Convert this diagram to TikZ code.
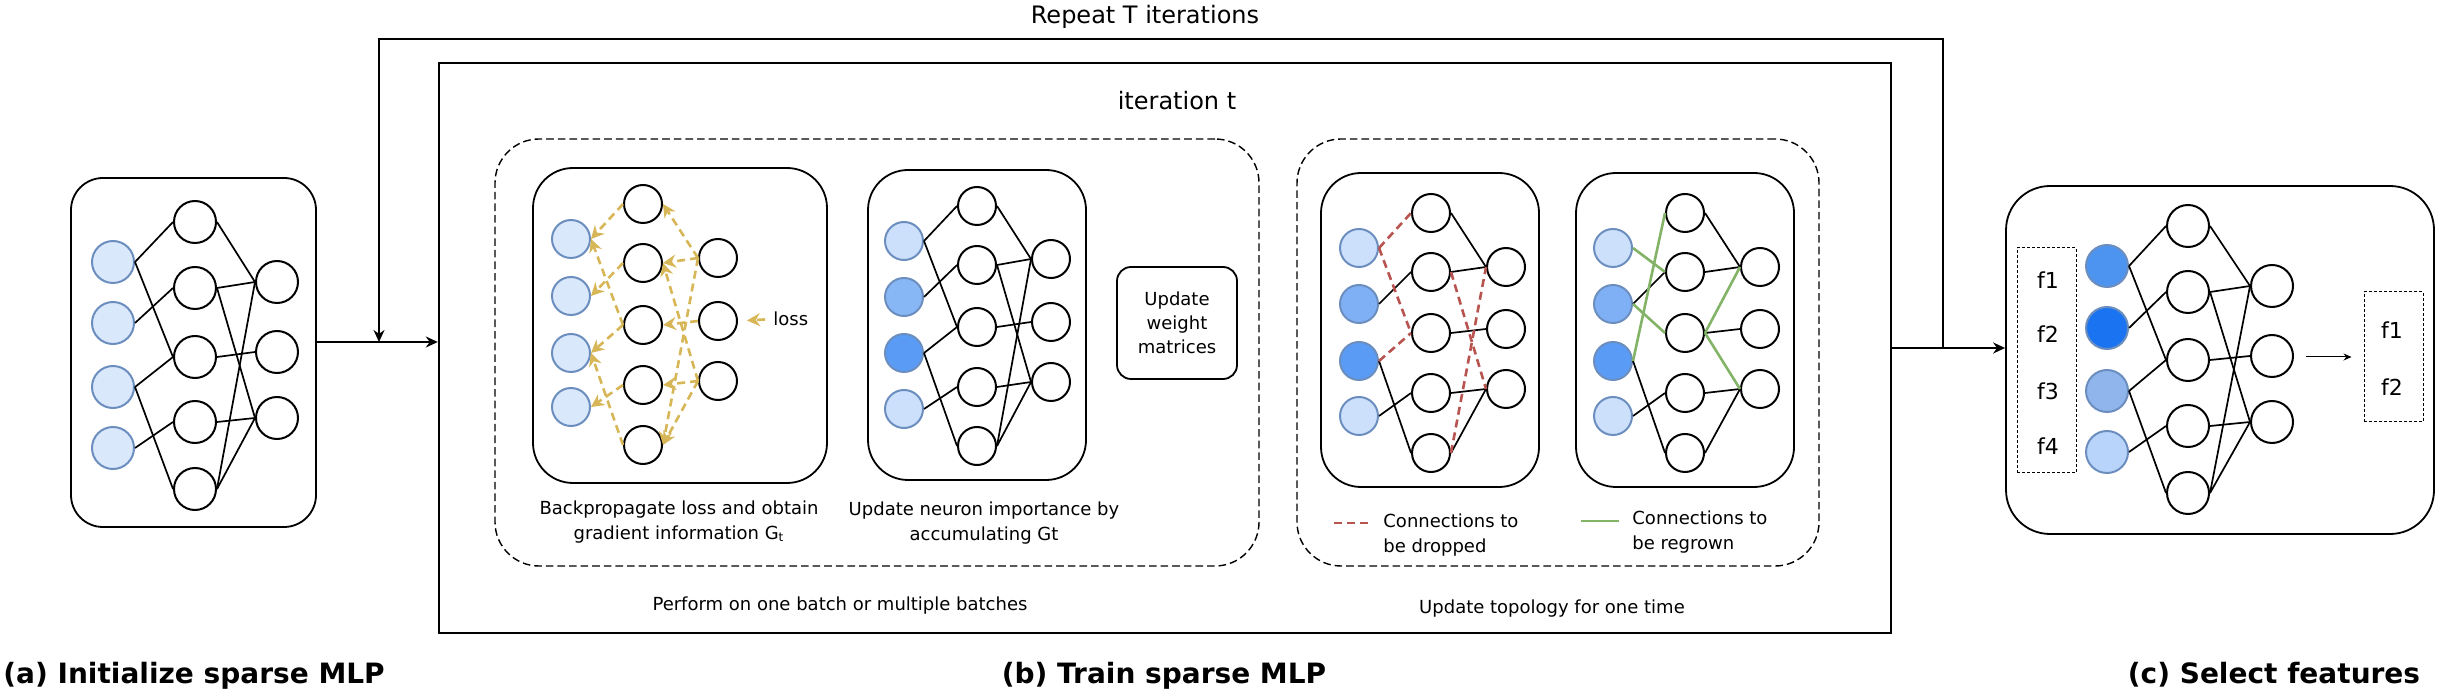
\documentclass[tikz,border=0pt]{standalone}
\usepackage{fontspec}
\setmainfont{DejaVu Sans}
\usetikzlibrary{arrows.meta,fit,calc}
\definecolor{gold}{HTML}{D6B656}
\definecolor{dropred}{HTML}{B85450}
\definecolor{growgreen}{HTML}{82B366}
\definecolor{bstroke}{HTML}{6C8EBF}
\definecolor{bZero}{HTML}{DAE8FC}
\definecolor{bLight}{HTML}{CCE0FC}
\definecolor{bMid}{HTML}{88B7F5}
\definecolor{bMidC}{HTML}{7FB0F5}
\definecolor{bStrong}{HTML}{5A9CF5}
\definecolor{rA}{HTML}{4D94F0}
\definecolor{rB}{HTML}{1A73F0}
\definecolor{rC}{HTML}{8FB5EC}
\definecolor{rD}{HTML}{B8D4FA}
\begin{document}
\begin{tikzpicture}[x=0.5pt,y=-0.5pt,
  every node/.style={inner sep=0pt},
  neu/.style={circle, draw=black, line width=1pt, fill=white, minimum size=21pt},
  neus/.style={circle, draw=black, line width=1pt, fill=white, minimum size=19pt},
  inp/.style={neu, draw=bstroke, fill=#1},
  inps/.style={neus, draw=bstroke, fill=#1},
  conn/.style={line width=0.85pt},
  back/.style={gold, line width=1.3pt, dash pattern=on 4pt off 2.5pt, -{Stealth[length=6.5pt,width=6.5pt]}},
  dropline/.style={dropred, line width=1.3pt, dash pattern=on 4pt off 2.5pt},
  growline/.style={growgreen, line width=1.3pt},
  mainarrow/.style={line width=0.9pt, -{Stealth[length=6pt,width=5.5pt]}},
  thinarrow/.style={line width=0.5pt, -{Stealth[length=4pt,width=3.5pt]}},
  rbox/.style={draw, line width=0.9pt, rounded corners=#1},
  dbox/.style={draw, line width=0.7pt, dash pattern=on 3.8pt off 2pt, rounded corners=22pt},
  fbox/.style={draw, line width=0.5pt, dash pattern=on 1.5pt off 1pt},
  txt/.style={font=\fontsize{9}{12.5}\selectfont, align=center},
  ttl/.style={font=\fontsize{12}{14}\selectfont},
  lbl/.style={font=\fontsize{14}{16}\selectfont\bfseries},
  ftxt/.style={font=\fontsize{11}{13}\selectfont}
]
\useasboundingbox (0,0) rectangle (2445,694);

% ---------------- (a) initial network ----------------
\node[rbox=16pt, fit={(71,178)(316,527)}] (lbox) {};
\foreach \y [count=\i] in {262,323,387,448} \node[inp=bZero] (L-I\i) at (113,\y) {};
\foreach \y [count=\i] in {222,288,357,422,489} \node[neu] (L-H\i) at (195,\y) {};
\foreach \y [count=\i] in {282,352,418} \node[neu] (L-O\i) at (277,\y) {};
\foreach \a/\b in {I1/H1,I1/H3,I2/H2,I3/H3,I3/H5,I4/H4,H1/O1,H2/O1,H2/O3,H3/O2,H4/O3,H5/O1,H5/O3}
  \draw[conn] (L-\a.east) -- (L-\b.west);

% ---------------- big iteration box ----------------
\node[draw, line width=1.2pt, fit={(439,63)(1891,633)}] (big) {};
\node[ttl, anchor=base] (itt) at (1177,110) {iteration t};
\node[ttl, anchor=base] (rep) at (1145,24) {Repeat T iterations};

% dashed groups
\node[dbox, fit={(495,139)(1259,566)}] (d1) {};
\node[dbox, fit={(1297,139)(1819,566)}] (d2) {};

% ---------------- box A: backprop ----------------
\node[rbox=20pt, fit={(533,168)(827,483)}] (boxA) {};
\foreach \y [count=\i] in {239,296,353,407} \node[inps=bZero] (A-I\i) at (571,\y) {};
\foreach \y [count=\i] in {204,263,325,385,445} \node[neus] (A-H\i) at (643,\y) {};
\foreach \y [count=\i] in {258,321,381} \node[neus] (A-O\i) at (718,\y) {};
\foreach \a/\b in {H1/I1,H2/I2,H3/I3,H4/I4,H3/I1,H5/I3,O1/H1,O1/H2,O1/H5,O3/H2,O2/H3,O3/H4,O3/H5}
  \draw[back] (A-\a.west) -- (A-\b.east);
\node[txt, anchor=west] (loss) at (773,319) {loss};
\draw[back, shorten <=4pt, shorten >=4.5pt] (loss.west) -- (A-O2.east);

% ---------------- box B: importance ----------------
\node[rbox=20pt, fit={(868,170)(1086,480)}] (boxB) {};
\foreach \y/\c [count=\i] in {241/bLight,297/bMid,353/bStrong,409/bLight} \node[inps=\c] (B-I\i) at (904,\y) {};
\foreach \y [count=\i] in {206,265,327,387,446} \node[neus] (B-H\i) at (977,\y) {};
\foreach \y [count=\i] in {259,322,382} \node[neus] (B-O\i) at (1051,\y) {};
\foreach \a/\b in {I1/H1,I1/H3,I2/H2,I3/H3,I3/H5,I4/H4,H1/O1,H2/O1,H2/O3,H3/O2,H4/O3,H5/O1,H5/O3}
  \draw[conn] (B-\a.east) -- (B-\b.west);

\node[rbox=7pt, fit={(1117,267)(1237,379)}] (upd) {};
\node[font=\fontsize{9}{12}\selectfont, align=center] (updt) at (upd.center) {Update\\weight\\matrices};

\node[txt] (labA) at (679,522) {Backpropagate loss and obtain\\gradient information G\textsubscript{t}};
\node[txt] (labB) at (984,523) {Update neuron importance by\\accumulating Gt};
\node[txt] (perf) at (840,606) {Perform on one batch or multiple batches};

% ---------------- box C: drop ----------------
\node[rbox=20pt, fit={(1321,173)(1539,487)}] (boxC) {};
\foreach \y/\c [count=\i] in {248/bLight,304/bMidC,361/bStrong,416/bLight} \node[inps=\c] (C-I\i) at (1359,\y) {};
\foreach \y [count=\i] in {213,272,333,393,453} \node[neus] (C-H\i) at (1431,\y) {};
\foreach \y [count=\i] in {267,329,389} \node[neus] (C-O\i) at (1506,\y) {};
\foreach \a/\b in {I2/H2,I3/H5,I4/H4,H1/O1,H2/O1,H3/O2,H4/O3,H5/O3}
  \draw[conn] (C-\a.east) -- (C-\b.west);
\foreach \a/\b in {I1/H1,I1/H3,I3/H3,H2/O3,H5/O1}
  \draw[dropline] (C-\a.east) -- (C-\b.west);

% ---------------- box D: regrow ----------------
\node[rbox=20pt, fit={(1576,173)(1794,487)}] (boxD) {};
\foreach \y/\c [count=\i] in {248/bLight,304/bMidC,361/bStrong,416/bLight} \node[inps=\c] (D-I\i) at (1613,\y) {};
\foreach \y [count=\i] in {213,272,333,393,453} \node[neus] (D-H\i) at (1685,\y) {};
\foreach \y [count=\i] in {267,329,389} \node[neus] (D-O\i) at (1760,\y) {};
\foreach \a/\b in {I2/H2,I3/H5,I4/H4,H1/O1,H2/O1,H3/O2,H4/O3,H5/O3}
  \draw[conn] (D-\a.east) -- (D-\b.west);
\foreach \a/\b in {I1/H2,I2/H3,I3/H1,H3/O1,H3/O3}
  \draw[growline] (D-\a.east) -- (D-\b.west);

% legend
\coordinate (lr1) at (1334,523); \coordinate (lr2) at (1371,523);
\draw[dropline] (lr1) -- (lr2);
\node[txt, align=left, anchor=west] (legr) at (1383,535) {Connections to\\be dropped};
\coordinate (lg1) at (1581,521); \coordinate (lg2) at (1619,521);
\draw[growline] (lg1) -- (lg2);
\node[txt, align=left, anchor=west] (legg) at (1632,532) {Connections to\\be regrown};
\node[txt] (topo) at (1552,609) {Update topology for one time};

% ---------------- (c) select features ----------------
\node[rbox=22pt, fit={(2006,186)(2434,534)}] (selbox) {};
\node[fbox, fit={(2017,248)(2076,473)}] (feat) {};
\foreach \y [count=\i] in {280,334,391,446} \node[ftxt] (F\i) at (2048,\y) {f\i};
\foreach \y/\c [count=\i] in {266/rA,328/rB,391/rC,452/rD} \node[inp=\c] (R-I\i) at (2107,\y) {};
\foreach \y [count=\i] in {226,292,360,426,493} \node[neu] (R-H\i) at (2188,\y) {};
\foreach \y [count=\i] in {286,356,422} \node[neu] (R-O\i) at (2272,\y) {};
\foreach \a/\b in {I1/H1,I1/H3,I2/H2,I3/H3,I3/H5,I4/H4,H1/O1,H2/O1,H2/O3,H3/O2,H4/O3,H5/O1,H5/O3}
  \draw[conn] (R-\a.east) -- (R-\b.west);
\node[fbox, fit={(2364,292)(2423,422)}] (outf) {};
\node[ftxt] (G1) at (2392,330) {f1};
\node[ftxt] (G2) at (2392,387) {f2};
\coordinate (sa) at (2306,357);
\draw[thinarrow, shorten >=6pt] (sa) -- (outf.west |- sa);

% ---------------- main connectors ----------------
\coordinate (fb1) at (1943,348);
\coordinate (fb2) at (379,342);
\coordinate (ftop1) at (1943,39);
\coordinate (ftop2) at (379,39);
\draw[mainarrow] (lbox.east |- fb2) -- (big.west |- fb2);
\draw[mainarrow] (big.east |- fb1) -- (selbox.west |- fb1);
\draw[mainarrow] (fb1) -- (ftop1) -- (ftop2) -- (fb2);

% ---------------- bottom labels ----------------
\node[lbl, anchor=base west] (la) at (3,683) {(a) Initialize sparse MLP};
\node[lbl, anchor=base] (lb) at (1164,683) {(b) Train sparse MLP};
\node[lbl, anchor=base] (lc) at (2274,683) {(c) Select features};
\end{tikzpicture}
\end{document}
